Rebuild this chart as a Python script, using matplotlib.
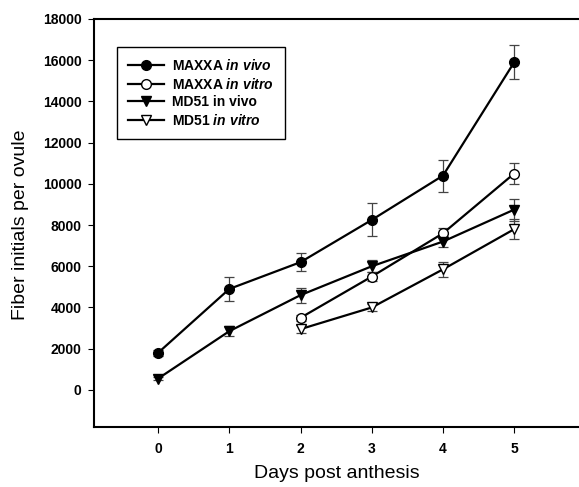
import matplotlib
matplotlib.use("Agg")
import matplotlib.pyplot as plt

plt.rcParams["font.family"] = ["Liberation Sans", "DejaVu Sans"]
plt.rcParams["mathtext.fontset"] = "custom"
plt.rcParams["mathtext.rm"] = "Liberation Sans:bold"
plt.rcParams["mathtext.it"] = "Liberation Sans:italic:bold"

# data
days_vivo = [0, 1, 2, 3, 4, 5]
days_vitro = [2, 3, 4, 5]

maxxa_vivo = [1800, 4900, 6200, 8250, 10400, 15900]
maxxa_vivo_err = [150, 580, 440, 800, 780, 830]

maxxa_vitro = [3500, 5500, 7600, 10500]
maxxa_vitro_err = [150, 200, 250, 530]

md51_vivo = [550, 2850, 4600, 6000, 7200, 8750]
md51_vivo_err = [80, 250, 360, 300, 250, 530]

md51_vitro = [2950, 4000, 5850, 7800]
md51_vitro_err = [200, 150, 360, 490]

labels = [r"MAXXA $\mathit{in\ vivo}$", r"MAXXA $\mathit{in\ vitro}$",
          "MD51 in vivo", r"MD51 $\mathit{in\ vitro}$"]

fig = plt.figure(figsize=(5.79, 4.87), dpi=100)
ax = fig.add_axes([94 / 579, 60 / 487, 1 - 94 / 579, 408 / 487])

series = [
    (days_vivo, maxxa_vivo, maxxa_vivo_err, "o", "black"),
    (days_vitro, maxxa_vitro, maxxa_vitro_err, "o", "white"),
    (days_vivo, md51_vivo, md51_vivo_err, "v", "black"),
    (days_vitro, md51_vitro, md51_vitro_err, "v", "white"),
]

handles = []
for (x, y, e, m, fc), lab in zip(series, labels):
    ax.errorbar(x, y, yerr=e, fmt="none", ecolor="#444444", elinewidth=0.9,
                capsize=3.5, capthick=0.9, zorder=2)
    h, = ax.plot(x, y, color="black", lw=1.6, marker=m, markersize=7,
                 markerfacecolor=fc, markeredgecolor="black",
                 markeredgewidth=1.0, label=lab, zorder=3)
    handles.append(h)

ax.set_xlim(-0.9, 5.91)
ax.set_ylim(-1800, 18000)
ax.set_xticks(range(6))
ax.set_yticks(range(0, 18001, 2000))
ax.tick_params(direction="out", length=4, width=0.8, labelsize=10)
for t in ax.get_xticklabels() + ax.get_yticklabels():
    t.set_fontweight("bold")
ax.tick_params(axis="x", pad=7)
ax.tick_params(axis="y", pad=5)

for s in ax.spines.values():
    s.set_linewidth(1.5)
ax.spines["right"].set_visible(False)

ax.set_xlabel("Days post anthesis", fontsize=14, labelpad=6)
ax.set_ylabel("Fiber initials per ovule", fontsize=14)
ax.yaxis.set_label_coords(-0.134, 0.495)

leg = ax.legend(handles=handles, loc="upper left",
                bbox_to_anchor=(0.047, 0.931), borderaxespad=0,
                fancybox=False, edgecolor="black", framealpha=1,
                prop={"weight": "bold", "size": 10}, handlelength=2.6,
                handletextpad=0.6, labelspacing=0.25, borderpad=0.8)
leg.get_frame().set_linewidth(1.0)

fig.savefig("out.png", dpi=100)
